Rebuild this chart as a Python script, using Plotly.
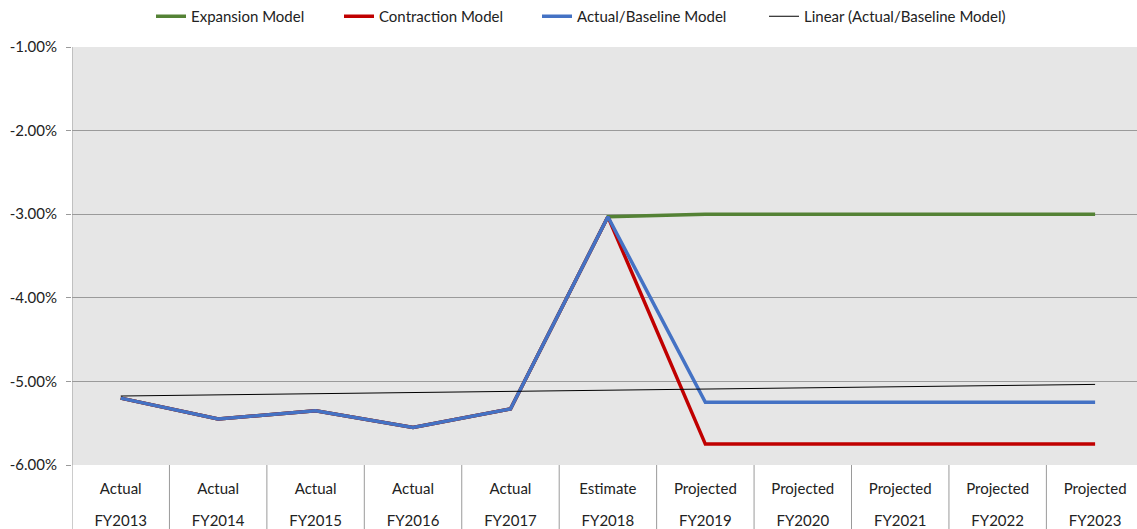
import numpy as np
import plotly.graph_objects as go

status = ["Actual", "Actual", "Actual", "Actual", "Actual", "Estimate",
          "Projected", "Projected", "Projected", "Projected", "Projected"]
years = ["FY2013", "FY2014", "FY2015", "FY2016", "FY2017", "FY2018",
         "FY2019", "FY2020", "FY2021", "FY2022", "FY2023"]

expansion = [-5.20, -5.45, -5.35, -5.55, -5.33, -3.03, -3.00, -3.00, -3.00, -3.00, -3.00]
contraction = [-5.20, -5.45, -5.35, -5.55, -5.33, -3.03, -5.75, -5.75, -5.75, -5.75, -5.75]
baseline = [-5.20, -5.45, -5.35, -5.55, -5.33, -3.03, -5.25, -5.25, -5.25, -5.25, -5.25]

y_ticks = [-1, -2, -3, -4, -5, -6]

x = list(range(len(years)))

# linear trendline of baseline (least squares, like Excel)
slope, intercept = np.polyfit(x, baseline, 1)
trend = [slope * xi + intercept for xi in x]

FONT = "Lato"
GRID = "#9a9a9a"
X_RANGE = [-0.5, 10.43]

fig = go.Figure()
fig.add_trace(go.Scatter(x=x, y=expansion, mode="lines", name="Expansion Model",
                         legend="legend",
                         line=dict(color="#548235", width=3.5)))
fig.add_trace(go.Scatter(x=x, y=contraction, mode="lines", name="Contraction Model",
                         legend="legend2",
                         line=dict(color="#c00000", width=3.5)))
fig.add_trace(go.Scatter(x=x, y=baseline, mode="lines", name="Actual/Baseline Model",
                         legend="legend3",
                         line=dict(color="#4472c4", width=3.5)))
# trendline lives on the overlaying axis that carries the fiscal-year labels
fig.add_trace(go.Scatter(x=x, y=trend, mode="lines", name="Linear (Actual/Baseline Model)",
                         legend="legend4", xaxis="x2", yaxis="y",
                         line=dict(color="#000000", width=1)))

# category separators extending below the plot
for b in [i - 0.5 for i in range(len(years) + 1)]:
    fig.add_shape(type="line", xref="x", yref="paper", x0=b, x1=b, y0=0, y1=-0.2,
                  line=dict(color=GRID, width=1), layer="above")
fig.add_shape(type="line", xref="x", yref="paper", x0=-0.5, x1=-0.5, y0=0, y1=1,
              line=dict(color=GRID, width=1), layer="above")


def leg(px):
    return dict(orientation="h", xref="container", yref="container",
                x=px / 1137, xanchor="left", y=1.0, yanchor="top",
                font=dict(size=15), bgcolor="rgba(0,0,0,0)")


fig.update_layout(
    width=1137, height=529,
    margin=dict(l=72, r=0, t=47, b=64, autoexpand=False),
    paper_bgcolor="white",
    plot_bgcolor="#e6e6e6",
    font=dict(family=FONT, size=15, color="#222222"),
    showlegend=True,
    legend=leg(151), legend2=leg(339), legend3=leg(537), legend4=leg(764),
    xaxis=dict(range=X_RANGE, tickvals=x, ticktext=status,
               showgrid=False, zeroline=False, showline=False, ticks="",
               ticklabelstandoff=13, automargin=False,
               tickfont=dict(size=15)),
    xaxis2=dict(range=X_RANGE, tickvals=x, ticktext=years,
                overlaying="x", anchor="y", side="bottom",
                showgrid=False, zeroline=False, showline=False, ticks="",
                ticklabelstandoff=45, automargin=False,
                tickfont=dict(size=15)),
    yaxis=dict(range=[-6, -1], tickvals=y_ticks,
               ticktext=[f"{v:.2f}%" for v in y_ticks],
               showgrid=True, gridcolor=GRID, gridwidth=1, zeroline=False,
               showline=False, ticks="outside", ticklen=5, tickcolor=GRID,
               ticklabelstandoff=6, automargin=False,
               tickfont=dict(size=15)),
)

fig.write_html("out.html")
